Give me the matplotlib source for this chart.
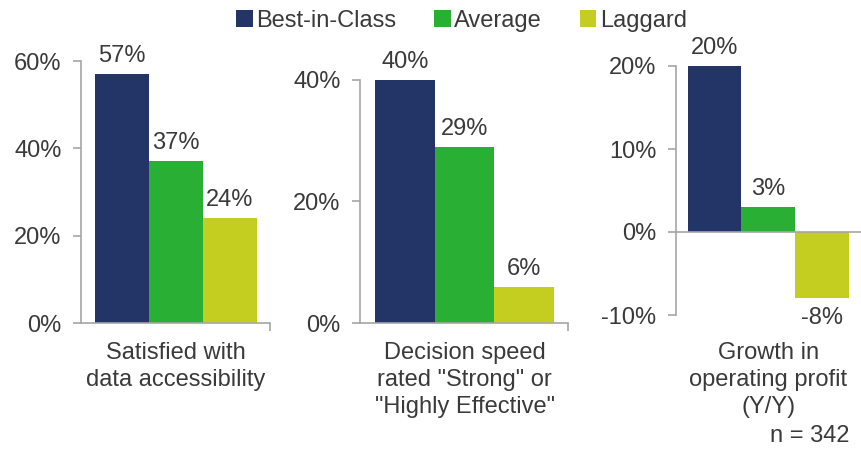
import matplotlib
matplotlib.use("Agg")
import matplotlib.pyplot as plt
from matplotlib.patches import Patch
from matplotlib.ticker import FuncFormatter
import matplotlib.transforms as mtransforms

plt.rcParams['font.family'] = ['Liberation Sans', 'DejaVu Sans']

series = ["Best-in-Class", "Average", "Laggard"]
colors = ["#233466", "#2AAF35", "#C3CE21"]
categories = ["Satisfied with\ndata accessibility",
              "Decision speed\nrated \"Strong\" or\n\"Highly Effective\"",
              "Growth in\noperating profit\n(Y/Y)"]
values = [
    [57, 37, 24],
    [40, 29, 6],
    [20, 3, -8],
]
yticks = [[0, 20, 40, 60], [0, 20, 40], [-10, 0, 10, 20]]
ylims = [(0, 60), (0, 40), (-10, 20)]
xlims = [(-0.76, 2.74), (-0.75, 2.73), (-0.72, 2.7)]

W, H = 862, 454
rects = [
    (81, 270, 61, 323),
    (360, 568, 80, 323),
    (676, 862, 66, 315),
]
TXT = "#3a3a3a"
AX = "#a6a6a6"
FS = 17

fig = plt.figure(figsize=(W / 100, H / 100), dpi=100)

for i, (l, r, t, b) in enumerate(rects):
    ax = fig.add_axes([l / W, 1 - b / H, (r - l) / W, (b - t) / H])
    vals = values[i]
    xs = list(range(len(vals)))
    ax.bar(xs, vals, width=1.0, color=colors, linewidth=0, zorder=2)
    ax.set_xlim(*xlims[i])
    ax.set_ylim(*ylims[i])
    ax.set_yticks(yticks[i])
    ax.yaxis.set_major_formatter(FuncFormatter(lambda v, p: f"{int(v)}%"))
    for s in ["top", "right"]:
        ax.spines[s].set_visible(False)
    ax.spines["left"].set_color(AX)
    ax.spines["bottom"].set_color(AX)
    ax.spines["left"].set_linewidth(1.2)
    ax.spines["bottom"].set_linewidth(1.2)
    ax.tick_params(axis="y", colors=AX, labelcolor=TXT, labelsize=FS, length=6, width=1.2, pad=8)
    if i < 2:
        ax.set_xticks([xlims[i][1]])
        ax.tick_params(axis="x", colors=AX, length=6, width=1.2, labelbottom=False)
    else:
        ax.spines["bottom"].set_position(("data", 0))
        ax.set_xticks([])
        ax.set_xlim(xlims[i][0], xlims[i][1] + 0.05)
    for x, v in zip(xs, vals):
        if v >= 0:
            ax.annotate(f"{v}%", (x, v), xytext=(0, 5), textcoords="offset points",
                        ha="center", va="bottom", fontsize=FS, color=TXT)
        else:
            ax.annotate(f"{v}%", (x, v), xytext=(0, -6), textcoords="offset points",
                        ha="center", va="top", fontsize=FS, color=TXT)
    trans = mtransforms.blended_transform_factory(ax.transData, fig.transFigure)
    ax.text(1.0, 1 - 342 / H, categories[i], transform=trans, ha="center", va="top",
            fontsize=FS, color=TXT, linespacing=1.28, clip_on=False)
    ax.patch.set_alpha(0)

handles = [Patch(facecolor=c, edgecolor="none", label=s) for c, s in zip(colors, series)]
leg = fig.legend(handles=handles, loc="center", bbox_to_anchor=(461.5 / W, 1 - 21 / H), ncol=3,
                 frameon=False, fontsize=FS, handlelength=0.7, handleheight=0.7,
                 handletextpad=0.15, columnspacing=1.6, borderaxespad=0)
for t in leg.get_texts():
    t.set_color(TXT)

fig.text(850 / W, 1 - 442 / H, "n = 342", ha="right", va="baseline", fontsize=FS, color=TXT)

fig.savefig("out.png", dpi=100)
